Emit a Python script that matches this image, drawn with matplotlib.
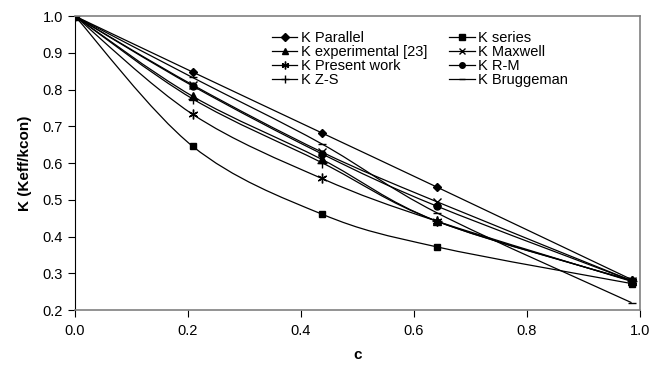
import numpy as np
import matplotlib
matplotlib.use("Agg")
import matplotlib.pyplot as plt
from matplotlib.path import Path
from matplotlib.patches import PathPatch

plt.rcParams['font.family'] = ['Liberation Sans', 'DejaVu Sans']

c = [0.0, 0.208, 0.437, 0.64, 0.985]
k_parallel = [1.0, 0.848, 0.682, 0.535, 0.283]
k_series = [1.0, 0.646, 0.461, 0.372, 0.272]
k_experimental = [1.0, 0.782, 0.610, 0.442, 0.280]
k_maxwell = [1.0, 0.813, 0.630, 0.495, 0.280]
k_present = [1.0, 0.733, 0.558, 0.442, 0.278]
k_rm = [1.0, 0.810, 0.625, 0.483, 0.280]
k_zs = [1.0, 0.775, 0.601, 0.442, 0.280]
k_bruggeman = [1.0, 0.833, 0.652, 0.465, 0.220]

series = [
    ("K Parallel", k_parallel, "D", 4.5),
    ("K series", k_series, "s", 5),
    ("K experimental [23]", k_experimental, "^", 5.5),
    ("K Maxwell", k_maxwell, "x", 6),
    ("K Present work", k_present, (6, 2, 0), 7),
    ("K R-M", k_rm, "o", 5),
    ("K Z-S", k_zs, "+", 7),
    ("K Bruggeman", k_bruggeman, "_", 6),
]


def smooth_path(ax, x, y):
    # Excel-style smoothed line: cubic Bezier segments through the points
    pts = ax.transData.transform(np.column_stack([x, y]))
    n = len(pts)
    verts = [pts[0]]
    codes = [Path.MOVETO]
    t = 1.0 / 6.0
    for i in range(n - 1):
        p0 = pts[i - 1] if i > 0 else pts[i]
        p1 = pts[i]
        p2 = pts[i + 1]
        p3 = pts[i + 2] if i + 2 < n else pts[i + 1]
        c1 = p1 + (p2 - p0) * t
        c2 = p2 - (p3 - p1) * t
        verts += [c1, c2, p2]
        codes += [Path.CURVE4] * 3
    inv = ax.transData.inverted()
    verts = inv.transform(np.array(verts))
    return Path(verts, codes)


fig = plt.figure(figsize=(6.66, 3.75), dpi=100)
ax = fig.add_axes([0.1126, 0.1733, 0.8484, 0.7837])
ax.set_xlim(0, 1.0)
ax.set_ylim(0.2, 1.0)

handles = {}
for label, vals, mk, ms in series:
    p = smooth_path(ax, c, vals)
    ax.add_patch(PathPatch(p, facecolor='none', edgecolor='black', lw=0.9))
    ax.plot(c, vals, linestyle='none', marker=mk, color='black', ms=ms,
            mew=1.0)
    h, = ax.plot([], [], color='black', lw=0.9, marker=mk, ms=ms * 0.8,
                 mew=1.0, label=label)
    handles[label] = h

# row-major legend order (two columns)
order = ["K Parallel", "K experimental [23]", "K Present work", "K Z-S",
         "K series", "K Maxwell", "K R-M", "K Bruggeman"]

ax.set_xticks(np.arange(0, 1.01, 0.2))
ax.set_yticks(np.arange(0.2, 1.01, 0.1))
ax.xaxis.set_major_formatter(matplotlib.ticker.FormatStrFormatter('%.1f'))
ax.yaxis.set_major_formatter(matplotlib.ticker.FormatStrFormatter('%.1f'))
ax.tick_params(axis='both', direction='out', length=5, labelsize=10.5,
               width=0.8)
ax.tick_params(axis='x', pad=5)

for s in ['top', 'right', 'bottom']:
    ax.spines[s].set_color('#808080')
    ax.spines[s].set_linewidth(1.2)
ax.spines['left'].set_color('black')
ax.spines['left'].set_linewidth(0.8)

ax.set_xlabel('c', fontsize=11, fontweight='bold', labelpad=7)
ax.set_ylabel('K (Keff/kcon)', fontsize=11, fontweight='bold', labelpad=8)

leg = ax.legend([handles[o] for o in order], order, ncol=2,
                loc='upper left', bbox_to_anchor=(0.338, 0.97),
                frameon=False, fontsize=10.5, handlelength=1.75,
                handletextpad=0.25, columnspacing=1.5, labelspacing=0.0,
                borderaxespad=0)

fig.savefig('out.png', dpi=100)
